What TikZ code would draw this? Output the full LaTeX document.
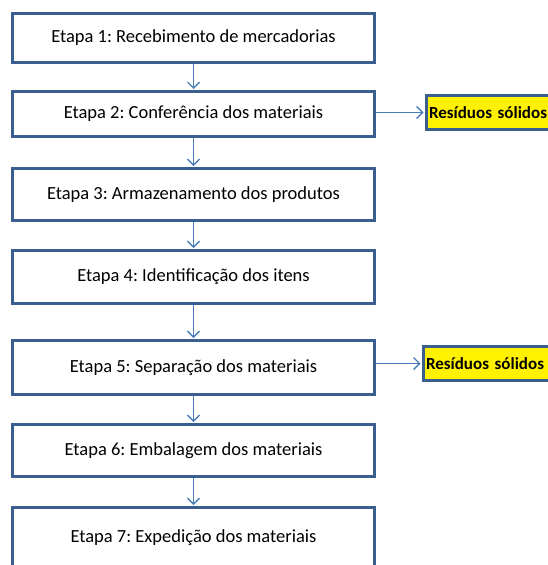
\documentclass[tikz,border=0pt]{standalone}
\usepackage{fontspec}
\setmainfont{Carlito}
\usetikzlibrary{arrows.meta}
\frenchspacing
\definecolor{boxblue}{HTML}{3A5F8E}
\definecolor{arrblue}{HTML}{4A7EBB}
\tikzset{
  stepbox/.style={draw=boxblue, line width=3pt, fill=white, minimum width=362pt,
    inner sep=0pt, font=\fontsize{18.5}{20}\selectfont},
  wastebox/.style={draw=boxblue, line width=3pt, fill=yellow, anchor=west,
    minimum height=34pt, text width=132pt, align=left, inner xsep=3pt,
    font=\fontsize{17}{19}\selectfont\bfseries},
  flow/.style={draw=arrblue, line width=1.3pt, -{Straight Barb[length=6pt,width=12pt]}, shorten >=1pt}
}
\begin{document}
\begin{tikzpicture}[x=1pt,y=-1pt]
\useasboundingbox (0,0) rectangle (548,565);
\node[stepbox, minimum height=49pt] (s1) at (193.5,38) {Etapa 1: Recebimento de mercadorias};
\node[stepbox, minimum height=45pt] (s2) at (193.5,114) {Etapa 2: Conferência dos materiais};
\node[stepbox, minimum height=52pt] (s3) at (193.5,194.5) {Etapa 3: Armazenamento dos produtos};
\node[stepbox, minimum height=53pt] (s4) at (193.5,277) {Etapa 4: Identificação dos itens};
\node[stepbox, minimum height=54pt] (s5) at (193.5,367.5) {Etapa 5: Separação dos materiais};
\node[stepbox, minimum height=52pt] (s6) at (193.5,450.5) {Etapa 6: Embalagem dos materiais};
\node[stepbox, minimum height=61pt] (s7) at (193.5,538) {Etapa 7: Expedição dos materiais};
\node[wastebox] (w1) at (424.5,112.5) {Resíduos sólidos};
\node[wastebox] (w2) at (421.5,363.5) {Resíduos sólidos};
\draw[flow] (s1) -- (s2);
\draw[flow] (s2) -- (s3);
\draw[flow] (s3) -- (s4);
\draw[flow] (s4) -- (s5);
\draw[flow] (s5) -- (s6);
\draw[flow] (s6) -- (s7);
\draw[flow] (s2.east |- w1) -- (w1.west);
\draw[flow] (s5.east |- w2) -- (w2.west);
\end{tikzpicture}
\end{document}
